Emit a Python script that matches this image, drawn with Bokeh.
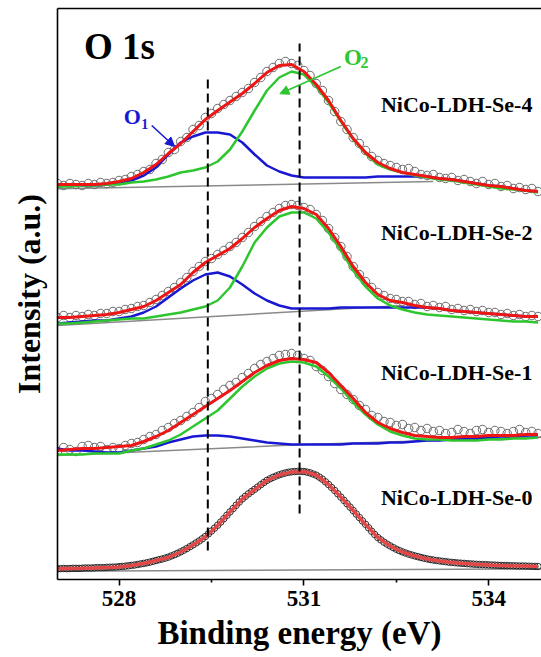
from bokeh.plotting import figure
from bokeh.models import Range1d, FixedTicker, LinearAxis, Arrow, NormalHead
from bokeh.core.properties import value
from bokeh.embed import file_html
from bokeh.resources import INLINE

# ---------------- data (binding energy in eV, intensity in stacked a.u.) ----------------
fit_energy = [527.0, 527.2, 527.4, 527.6, 527.8, 528.0, 528.2, 528.4, 528.6, 528.8,
              529.0, 529.2, 529.4, 529.6, 529.8, 530.0, 530.2, 530.4, 530.6, 530.8,
              531.0, 531.2, 531.4, 531.6, 531.8, 532.0, 532.2, 532.4, 532.6, 532.8,
              533.0, 533.2, 533.4, 533.6, 533.8, 534.0, 534.2, 534.4, 534.6, 534.8]

data_energy = [527.0, 527.1, 527.2, 527.3, 527.4, 527.5, 527.6, 527.7, 527.8, 527.9,
               528.0, 528.1, 528.2, 528.3, 528.4, 528.5, 528.6, 528.7, 528.8, 528.9,
               529.0, 529.1, 529.2, 529.3, 529.4, 529.5, 529.6, 529.7, 529.8, 529.9,
               530.0, 530.1, 530.2, 530.3, 530.4, 530.5, 530.6, 530.7, 530.8, 530.9,
               531.0, 531.1, 531.2, 531.3, 531.4, 531.5, 531.6, 531.7, 531.8, 531.9,
               532.0, 532.1, 532.2, 532.3, 532.4, 532.5, 532.6, 532.7, 532.8, 532.9,
               533.0, 533.1, 533.2, 533.3, 533.4, 533.5, 533.6, 533.7, 533.8, 533.9,
               534.0, 534.1, 534.2, 534.3, 534.4, 534.5, 534.6, 534.7, 534.8]

se0_energy = [527.00, 527.05, 527.10, 527.15, 527.20, 527.25, 527.30, 527.35, 527.40, 527.45,
              527.50, 527.55, 527.60, 527.65, 527.70, 527.75, 527.80, 527.85, 527.90, 527.95,
              528.00, 528.05, 528.10, 528.15, 528.20, 528.25, 528.30, 528.35, 528.40, 528.45,
              528.50, 528.55, 528.60, 528.65, 528.70, 528.75, 528.80, 528.85, 528.90, 528.95,
              529.00, 529.05, 529.10, 529.15, 529.20, 529.25, 529.30, 529.35, 529.40, 529.45,
              529.50, 529.55, 529.60, 529.65, 529.70, 529.75, 529.80, 529.85, 529.90, 529.95,
              530.00, 530.05, 530.10, 530.15, 530.20, 530.25, 530.30, 530.35, 530.40, 530.45,
              530.50, 530.55, 530.60, 530.65, 530.70, 530.75, 530.80, 530.85, 530.90, 530.95,
              531.00, 531.05, 531.10, 531.15, 531.20, 531.25, 531.30, 531.35, 531.40, 531.45,
              531.50, 531.55, 531.60, 531.65, 531.70, 531.75, 531.80, 531.85, 531.90, 531.95,
              532.00, 532.05, 532.10, 532.15, 532.20, 532.25, 532.30, 532.35, 532.40, 532.45,
              532.50, 532.55, 532.60, 532.65, 532.70, 532.75, 532.80, 532.85, 532.90, 532.95,
              533.00, 533.05, 533.10, 533.15, 533.20, 533.25, 533.30, 533.35, 533.40, 533.45,
              533.50, 533.55, 533.60, 533.65, 533.70, 533.75, 533.80, 533.85, 533.90, 533.95,
              534.00, 534.05, 534.10, 534.15, 534.20, 534.25, 534.30, 534.35, 534.40, 534.45,
              534.50, 534.55, 534.60, 534.65, 534.70, 534.75, 534.80]

# NiCo-LDH-Se-4
se4_data = [397, 395, 397, 396, 395, 397, 396, 398, 397, 398,
            400, 401, 404, 406, 409, 411, 417, 421, 428, 431,
            439, 443, 451, 455, 463, 467, 472, 476, 480, 484,
            488, 492, 498, 503, 509, 513, 517, 519, 517, 515,
            510, 505, 497, 490, 480, 469, 459, 451, 443, 437,
            430, 424, 420, 417, 415, 413, 411, 412, 409, 406,
            405, 406, 403, 402, 403, 400, 401, 399, 397, 399,
            396, 397, 394, 395, 392, 393, 391, 392, 389]
se4_env = [396, 396, 396, 396, 397, 399, 402, 408, 416, 427, 437, 449, 461, 470, 478.5, 487, 497, 508, 515, 516,
           509, 496, 480, 460, 442, 428, 418, 412, 408, 406, 404, 402, 401, 399, 397, 395, 394, 392, 390, 389]
se4_o2 = [394, 394, 395, 395, 396, 396, 398, 399, 401, 404, 408, 410, 413, 419, 431, 449, 470, 490, 503, 509,
          506, 494, 478, 459, 441, 427, 416, 411, 408, 405, 403, 401, 400, 398, 396, 394, 392, 391, 390, 388]
se4_o1 = [394, 395, 395, 395, 396, 398, 400, 405, 413, 426, 438, 444, 448, 448, 446, 438, 426, 415, 409, 405,
          403, 403, 403, 403, 403, 403, 404, 404, 404, 404, 404, 402, 401, 399, 397, 395, 394, 392, 390, 389]
se4_bg_x = [527.0, 533.1]
se4_bg_y = [391.7, 399.0]

# NiCo-LDH-Se-2
se2_data = [263, 265, 263, 265, 264, 266, 265, 267, 267, 269,
            269, 271, 272, 274, 275, 278, 281, 285, 289, 293,
            298, 303, 309, 314, 319, 322, 326, 330, 334, 338,
            343, 348, 354, 359, 364, 368, 372, 375, 376, 375,
            373, 371, 366, 360, 352, 343, 334, 324, 314, 306,
            299, 293, 288, 285, 282, 281, 279, 279, 276, 277,
            274, 275, 273, 274, 271, 272, 270, 271, 269, 270,
            268, 268, 266, 267, 265, 266, 264, 265, 264]
se2_env = [263, 263, 264, 265, 266, 268, 271, 274, 280, 288, 296, 308, 318, 325, 332, 342, 353, 362, 370, 374,
           372, 366, 352, 334, 314, 298, 286, 280, 278, 275, 273, 272, 270, 269, 268, 267, 266, 265, 264, 264]
se2_o2 = [257, 257, 258, 259, 260, 261, 262, 262, 264, 266, 268, 271, 274, 280, 293, 314, 338, 353, 364, 368,
          368, 362, 348, 330, 310, 294, 282, 275, 271, 268, 266, 265, 264, 263, 262, 261, 260, 259, 259, 258]
se2_o1 = [257, 258, 259, 260, 260, 262, 264, 268, 274, 283, 292, 300, 306, 308, 304, 296, 287, 280, 275, 272,
          272, 272, 272, 273, 273, 273, 273, 273, 273, 273, 273, 272, 270, 269, 268, 267, 266, 265, 264, 264]
se2_bg_x = [527.0, 532.6]
se2_bg_y = [255.0, 275.0]

# NiCo-LDH-Se-1
se1_data = [129, 133, 131, 129, 134, 135, 133, 134, 131, 133,
            132, 135, 137, 138, 141, 144, 146, 150, 153, 157,
            160, 164, 168, 173, 179, 182, 186, 191, 195, 198,
            203, 207, 212, 216, 219, 222, 225, 226, 227, 225,
            222, 220, 214, 210, 204, 197, 191, 186, 181, 175,
            171, 165, 163, 159, 158, 155, 156, 152, 153, 150,
            152, 149, 150, 147, 148, 151, 149, 147, 150, 151,
            148, 150, 149, 147, 149, 151, 148, 149, 147]
se1_env = [130, 131, 132, 132, 133, 134, 135, 139, 144, 150, 158, 166, 174, 182, 190, 199, 208, 215, 220, 222,
           221, 218, 208, 195, 182, 168, 158, 152, 148, 145, 144, 143, 143, 144, 144, 145, 145, 145, 146, 146]
se1_o2 = [126, 126, 126, 127, 127, 127, 130, 132, 136, 140, 146, 154, 162, 170, 182, 194, 204, 212, 217, 219,
          218, 214, 204, 192, 178, 166, 156, 149, 145, 142, 141, 141, 140, 140, 140, 141, 141, 142, 142, 143]
se1_o1 = [132, 130, 130, 129, 128, 128, 130, 132, 134, 138, 141, 144, 145, 145, 144, 142, 140, 138, 137, 136,
          136, 136, 136, 136, 137, 137, 137, 138, 138, 139, 140, 140, 141, 142, 142, 143, 144, 144, 145, 145]
se1_bg_x = [527.0, 531.0, 534.86]
se1_bg_y = [125.0, 136.0, 143.3]

# NiCo-LDH-Se-0 (dense data)
se0_data = [11.5, 11.9, 12.0, 11.8, 12.0, 12.2, 12.2, 12.1, 12.3, 12.5,
            12.5, 12.5, 12.7, 12.9, 12.9, 12.9, 13.1, 13.3, 13.4, 13.5,
            13.8, 14.1, 14.3, 14.7, 15.1, 15.5, 16.0, 16.6, 17.1, 17.7,
            18.4, 19.2, 20.0, 20.8, 21.5, 22.4, 23.4, 24.6, 25.8, 27.2,
            28.7, 30.3, 32.0, 33.8, 35.6, 37.6, 39.5, 41.7, 44.0, 46.7,
            49.5, 52.4, 55.3, 58.5, 61.8, 65.2, 68.6, 71.9, 75.2, 78.5,
            81.6, 84.2, 86.7, 89.0, 91.2, 93.5, 95.8, 98.0, 100.1, 101.7,
            103.2, 104.5, 105.7, 106.7, 107.6, 108.2, 108.7, 109.0, 109.2, 109.1,
            109.0, 108.4, 107.6, 106.5, 105.3, 103.4, 101.3, 98.7, 96.0, 93.0,
            90.0, 86.7, 83.4, 80.1, 76.8, 73.4, 70.0, 66.5, 63.0, 59.6,
            56.2, 52.7, 49.2, 46.0, 43.0, 40.6, 38.3, 36.4, 34.6, 32.9,
            31.3, 29.9, 28.6, 27.5, 26.4, 25.5, 24.6, 23.8, 23.0, 22.3,
            21.6, 21.0, 20.5, 20.0, 19.6, 19.2, 18.8, 18.4, 18.1, 17.8,
            17.5, 17.3, 17.1, 16.8, 16.6, 16.4, 16.2, 16.0, 15.9, 15.8,
            15.6, 15.5, 15.4, 15.2, 15.1, 15.0, 14.9, 14.8, 14.7, 14.6,
            14.5, 14.5, 14.4, 14.3, 14.2, 14.1, 14.0]
se0_env = [11.7, 12.0, 12.2, 12.6, 13.0, 13.5, 15.0, 17.0, 20.0, 23.0, 28.5, 35.5, 43.5, 55.0, 68.5, 81.5,
           91.0, 100.0, 105.5, 108.5, 109.0, 105.5, 96.0, 83.5, 70.0, 56.0, 43.0, 34.5, 28.5, 24.5, 21.5,
           19.5, 18.0, 17.0, 16.2, 15.6, 15.1, 14.7, 14.4, 14.0]
se0_bg_x = [527.0, 534.86]
se0_bg_y = [9.3, 11.7]

sample_names = ["NiCo-LDH-Se-4", "NiCo-LDH-Se-2", "NiCo-LDH-Se-1", "NiCo-LDH-Se-0"]
peak_centers = [529.44, 530.93]          # O1, O2 reference lines
x_ticks = [528, 531, 534]
x_minor_ticks = [529.5, 532.5]

# ---------------- styling ----------------
FONT = "Liberation Serif"
RED = "#ee1515"
GREEN = "#2ec62e"
BLUE = "#1818d2"
GRAY = "#8a8a8a"

p = figure(width=541, height=657, x_range=Range1d(527.0, 534.857), y_range=Range1d(1, 572),
           output_backend="svg", toolbar_location=None,
           min_border_left=57, min_border_right=0, min_border_top=8, min_border_bottom=78)
p.outline_line_color = None
p.grid.visible = False
p.background_fill_color = "white"

# x axis
xa = p.xaxis[0]
xa.ticker = FixedTicker(ticks=x_ticks, minor_ticks=x_minor_ticks)
xa.major_tick_in = 0
xa.major_tick_out = 6
xa.minor_tick_in = 0
xa.minor_tick_out = 3
xa.axis_line_width = 1.6
xa.major_tick_line_width = 1.6
xa.minor_tick_line_width = 1.6
xa.major_label_text_font = FONT
xa.major_label_text_font_style = "bold"
xa.major_label_text_font_size = "23px"
xa.major_label_text_color = "black"
xa.major_label_standoff = 5
xa.axis_label = "Binding energy (eV)"
xa.axis_label_text_font = FONT
xa.axis_label_text_font_style = "bold"
xa.axis_label_text_font_size = "33px"
xa.axis_label_text_color = "black"
xa.axis_label_standoff = 6

# y axis (line + title only)
ya = p.yaxis[0]
ya.ticker = FixedTicker(ticks=[])
ya.major_tick_line_color = None
ya.minor_tick_line_color = None
ya.major_label_text_font_size = "0px"
ya.axis_line_width = 1.6
ya.axis_label = "Intensity (a.u.)"
ya.axis_label_text_font = FONT
ya.axis_label_text_font_style = "bold"
ya.axis_label_text_font_size = "32px"
ya.axis_label_text_color = "black"
ya.axis_label_standoff = 11

# top border as an axis line
top_ax = LinearAxis(ticker=FixedTicker(ticks=[]), major_label_text_font_size="0px",
                    major_tick_line_color=None, minor_tick_line_color=None, axis_line_width=1.6)
p.add_layout(top_ax, "above")

spectra = [
    (se4_data, se4_env, se4_o1, se4_o2, se4_bg_x, se4_bg_y),
    (se2_data, se2_env, se2_o1, se2_o2, se2_bg_x, se2_bg_y),
    (se1_data, se1_env, se1_o1, se1_o2, se1_bg_x, se1_bg_y),
]

for dat, env, o1, o2, bgx, bgy in spectra:
    p.line(bgx, bgy, line_color=GRAY, line_width=1.5)
    p.scatter(data_energy, dat, marker="circle", size=8.5, fill_color=None,
              line_color="#6a6a6a", line_width=1)
    p.line(fit_energy, o1, line_color=BLUE, line_width=2.5)
    p.line(fit_energy, o2, line_color=GREEN, line_width=2.5)
    p.line(fit_energy, env, line_color=RED, line_width=3)

# Se-0
p.line(se0_bg_x, se0_bg_y, line_color=GRAY, line_width=1.5)
p.scatter(se0_energy, se0_data, marker="circle", size=6.5, fill_color=None,
          line_color="#1a1a1a", line_width=0.9)
p.line(fit_energy, se0_env, line_color="#e24848", line_width=3.5)

# dashed reference lines
p.segment(x0=peak_centers, y0=[30, 67], x1=peak_centers, y1=[502, 537],
          line_color="black", line_width=2, line_dash="9 5")

# sample labels
p.text(x=[532.25] * 4, y=[476, 348, 208, 83], text=sample_names,
       text_font=value(FONT), text_font_style="bold", text_font_size="22px",
       text_color="black", text_align="left", text_baseline="alphabetic")

# O 1s
p.text(x=[527.43], y=[534], text=["O 1s"], text_font=value(FONT), text_font_style="bold",
       text_font_size="37px", text_color="black", text_align="left", text_baseline="alphabetic")

# O1 label + arrow
p.text(x=[528.076], y=[464.5], text=["O"], text_font=value(FONT), text_font_style="bold",
       text_font_size="22px", text_color=BLUE, text_align="left", text_baseline="alphabetic")
p.text(x=[528.36], y=[456.5], text=["1"], text_font=value(FONT), text_font_style="bold",
       text_font_size="14px", text_color=BLUE, text_align="left", text_baseline="alphabetic")
p.add_layout(Arrow(end=NormalHead(size=9, fill_color=BLUE, line_color=BLUE),
                   x_start=528.53, y_start=455, x_end=528.90, y_end=434,
                   line_color=BLUE, line_width=1.6))

# O2 label + arrow
p.text(x=[531.65], y=[523], text=["O"], text_font=value(FONT), text_font_style="bold",
       text_font_size="23px", text_color=GREEN, text_align="left", text_baseline="alphabetic")
p.text(x=[531.92], y=[518.3], text=["2"], text_font=value(FONT), text_font_style="bold",
       text_font_size="16px", text_color=GREEN, text_align="left", text_baseline="alphabetic")
p.add_layout(Arrow(end=NormalHead(size=9, fill_color=GREEN, line_color=GREEN),
                   x_start=531.60, y_start=514, x_end=530.61, y_end=486.7,
                   line_color=GREEN, line_width=1.6))

open("out.html", "w").write(file_html(p, INLINE))
